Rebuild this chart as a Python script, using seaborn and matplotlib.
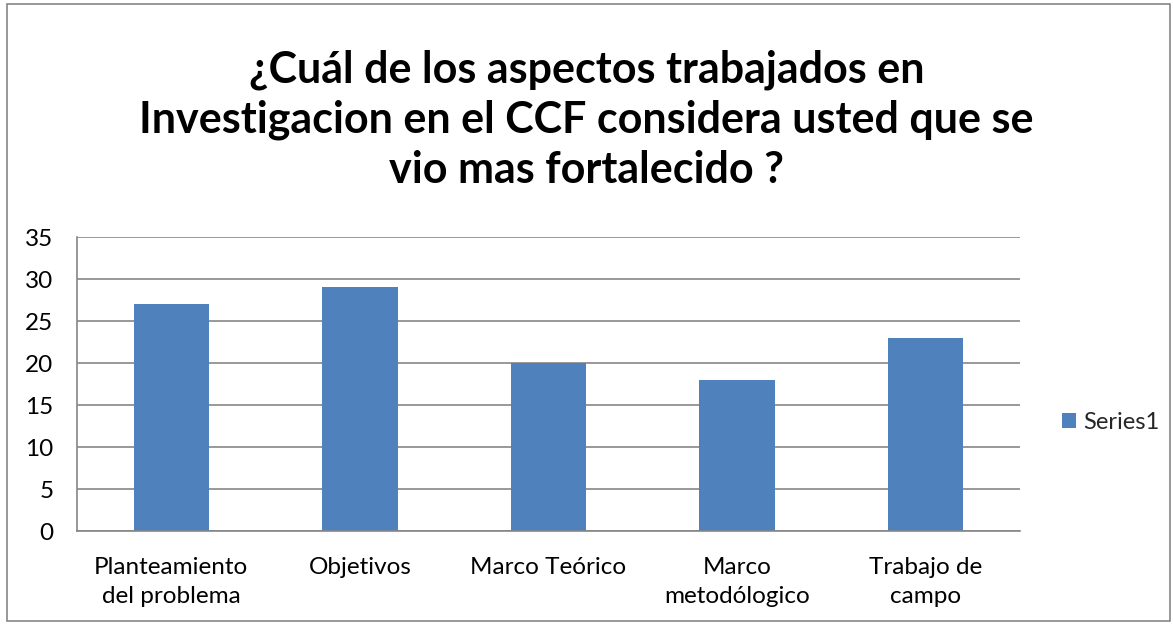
import matplotlib
matplotlib.use('Agg')
import matplotlib.pyplot as plt
import seaborn as sns
import pandas as pd
from matplotlib.patches import Rectangle

# datos del grafico
categorias = ['Planteamiento\ndel problema', 'Objetivos', 'Marco Teórico',
              'Marco\nmetodólogico', 'Trabajo de\ncampo']
valores = [27, 29, 20, 18, 23]
serie = 'Series1'
titulo = '¿Cuál de los aspectos trabajados en\nInvestigacion en el CCF considera usted que se\nvio mas fortalecido ?'
yticks = [0, 5, 10, 15, 20, 25, 30, 35]

sns.set_theme(style='white')
plt.rcParams['font.family'] = ['Lato', 'DejaVu Sans']

df = pd.DataFrame({'categoria': categorias, 'valor': valores, 'serie': serie})

fig = plt.figure(figsize=(11.73, 6.24), dpi=100)
ax = fig.add_axes([77 / 1173, 1 - 531 / 624, (1020 - 77) / 1173, (531 - 237) / 624])

sns.barplot(data=df, x='categoria', y='valor', hue='serie', palette=['#4F81BD'],
            width=0.4, ax=ax, saturation=1, edgecolor='none')

ax.set_ylim(0, 35)
ax.set_yticks(yticks)
ax.set_xlim(-0.5, len(categorias) - 0.5)
ax.yaxis.grid(True, color='#868686', linewidth=1.2)
ax.set_axisbelow(True)
for s in ['top', 'right']:
    ax.spines[s].set_visible(False)
ax.spines['left'].set_color('#868686')
ax.spines['bottom'].set_color('#868686')
ax.spines['left'].set_linewidth(1.2)
ax.spines['bottom'].set_linewidth(1.2)
ax.tick_params(axis='both', length=0, labelsize=17.5, colors='black')
ax.tick_params(axis='x', pad=19)
ax.tick_params(axis='y', pad=17)
for lab in ax.get_xticklabels():
    lab.set_linespacing(1.45)
ax.set_xlabel('')
ax.set_ylabel('')

leg = ax.legend(loc='center left', bbox_to_anchor=(1 + 42 / 943, 0.37), frameon=False,
                fontsize=17, handlelength=0.6, handleheight=0.6, handletextpad=0.3,
                borderaxespad=0, borderpad=0)

fig.text(0.5, 1 - 120 / 624, titulo, ha='center', va='center', fontsize=31,
         fontweight='bold', linespacing=1.3, color='black')

# borde del grafico
fig.patches.append(Rectangle((7 / 1173, 3 / 624), 1163 / 1173, 617 / 624,
                             transform=fig.transFigure, fill=False,
                             edgecolor='#868686', linewidth=1.2))

fig.savefig('out.png', dpi=100)
